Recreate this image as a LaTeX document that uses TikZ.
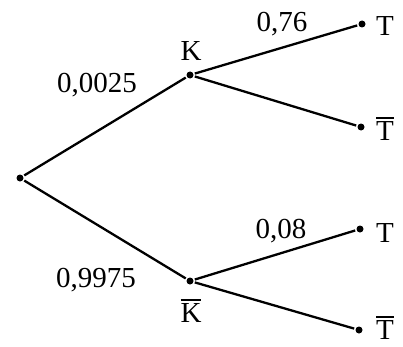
\documentclass[tikz,border=0pt]{standalone}
\usepackage{fontspec}
\setmainfont{Liberation Serif}
\newcommand\ovl[1]{\leavevmode\vbox{\hrule height 1.9pt\kern 2.5pt\hbox{#1}}}
\begin{document}
\begin{tikzpicture}[x=1pt,y=1pt,
  dot/.style={circle,fill=black,inner sep=0pt,minimum size=7pt,outer sep=1.5pt},
  lbl/.style={inner sep=0pt,anchor=base,font=\fontsize{29}{34}\selectfont},
  edge/.style={line width=2.3pt}]
\useasboundingbox (0,0) rectangle (403,346);
\node[dot] (r)  at (20,168) {};
\node[dot] (k)  at (190,271) {};
\node[dot] (kb) at (190,65) {};
\node[dot] (t1) at (362,322) {};
\node[dot] (tb1) at (361,219) {};
\node[dot] (t2) at (360,117) {};
\node[dot] (tb2) at (359,16) {};
\draw[edge] (r) -- (k);
\draw[edge] (r) -- (kb);
\draw[edge] (k) -- (t1);
\draw[edge] (k) -- (tb1);
\draw[edge] (kb) -- (t2);
\draw[edge] (kb) -- (tb2);
\node[lbl] (lk) at (191,285) {K};
\node[lbl] (lkb) at (191,24) {\ovl{K}};
\node[lbl,anchor=base west] (lt1) at (376,310) {T};
\node[lbl,anchor=base west] (ltb1) at (376,206) {\ovl{T}};
\node[lbl,anchor=base west] (lt2) at (376,104) {T};
\node[lbl,anchor=base west] (ltb2) at (376,7) {\ovl{T}};
\node[lbl] (p1) at (97,254) {0,0025};
\node[lbl] (p2) at (96,59) {0,9975};
\node[lbl] (p3) at (282,314) {0,76};
\node[lbl] (p4) at (281,108) {0,08};
\end{tikzpicture}
\end{document}
